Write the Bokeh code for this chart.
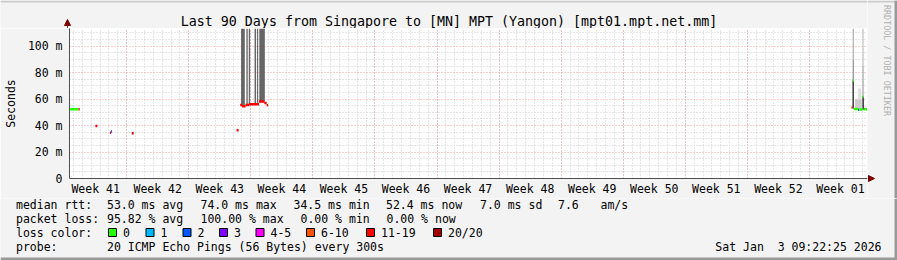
from bokeh.plotting import figure
from bokeh.models import Range1d, FixedTicker, Label, ColumnDataSource
from bokeh.layouts import column, row
from bokeh.embed import file_html
from bokeh.resources import INLINE
import math

# ---------------- data ----------------
TITLE = "Last 90 Days from Singapore to [MN] MPT (Yangon) [mpt01.mpt.net.mm]"
RANGE_DAYS = 90
Y_MAX_MS = 113.4
y_ticks_ms = [0, 20, 40, 60, 80, 100]
y_tick_labels = ["0", "20 m", "40 m", "60 m", "80 m", "100 m"]
y_minor_ms = [5, 10, 15, 25, 30, 35, 45, 50, 55, 65, 70, 75, 85, 90, 95, 105, 110]
week_labels = ["Week 41", "Week 42", "Week 43", "Week 44", "Week 45", "Week 46", "Week 47",
               "Week 48", "Week 49", "Week 50", "Week 51", "Week 52", "Week 01"]
first_week_start_day = 6.45   # first Sunday 00:00, days after graph start
first_midnight_day = 0.45

# median rtt runs: start day, end day, median ms, lost pings (of 20)
med_t0 = [0.00, 1.02, 2.92, 4.55, 4.68, 7.02, 18.85,
          19.25, 19.46, 19.85, 20.27, 21.37, 21.97, 22.24,
          88.20, 88.32, 88.45, 88.93, 89.05, 89.45, 89.58]
med_t1 = [1.02, 1.15, 3.14, 4.68, 4.80, 7.24, 19.07,
          19.46, 19.85, 20.27, 21.37, 21.97, 22.24, 22.40,
          88.32, 88.45, 88.93, 89.05, 89.45, 89.58, 90.00]
med_ms = [52.3, 52.3, 39.6, 34.5, 35.6, 34.3, 36.5,
          55.6, 54.7, 55.6, 56.1, 58.3, 57.0, 55.3,
          53.7, 74.0, 52.6, 52.0, 52.2, 61.8, 52.3]
med_loss = [0, 15, 15, 15, 2, 15, 15,
            15, 15, 15, 15, 15, 15, 15,
            15, 0, 0, 2, 0, 0, 0]

# smoke layers: start day, end day, low ms, high ms, density (0..1)
smoke_t0 = [19.35, 19.95, 20.22, 20.87, 21.15, 21.41,
            88.30, 88.33, 88.33, 88.60, 88.90, 89.42, 89.45, 89.45]
smoke_t1 = [19.77, 20.10, 20.37, 21.04, 21.28, 22.03,
            88.47, 88.45, 88.45, 89.35, 89.30, 89.60, 89.55, 89.55]
smoke_lo = [55.0, 55.0, 55.5, 56.0, 56.0, 58.0,
            53.0, 74.0, 90.0, 52.5, 60.0, 52.0, 62.0, 85.0]
smoke_hi = [113.4, 113.4, 113.4, 113.4, 113.4, 113.4,
            74.0, 90.0, 113.4, 60.0, 68.0, 62.0, 85.0, 113.4]
smoke_density = [0.6, 0.6, 0.6, 0.6, 0.6, 0.6,
                 0.75, 0.5, 0.35, 0.2, 0.12, 0.75, 0.45, 0.3]

loss_bin_labels = ["0", "1", "2", "3", "4-5", "6-10", "11-19", "20/20"]
loss_bin_upper = [0, 1, 2, 3, 5, 10, 19, 20]
loss_colors = ["#26ff00", "#00b8ff", "#0059ff", "#7e00ff", "#ff00ff", "#ff5500", "#ff0000", "#a10000"]

rtt_avg, rtt_max, rtt_min, rtt_now, rtt_sd, rtt_ams = 53.0, 74.0, 34.5, 52.4, 7.0, 7.6
loss_avg, loss_max, loss_min, loss_now = 95.82, 100.00, 0.00, 0.00
probe_text = "20 ICMP Echo Pings (56 Bytes) every 300s"
timestamp = "Sat Jan  3 09:22:25 2026"

# ---------------- layout constants ----------------
W, H = 897, 260
FL, FT, FW, FH = 67, 28, 800, 150
FB = FT + FH
MAIN_BOTTOM = 20
TOP_H = FT + FH + MAIN_BOTTOM          # height of upper block (198)
MONO = "DejaVu Sans Mono"
FS = "11.5px"
BG = "#f3f3f3"
AXIS_COL = "#505050"
ARROW_COL = "#7f0000"
SHADE_A = "#cbcbcb"
SHADE_B = "#999999"
BASE_SHIFT = 3.8   # Bokeh places alphabetic baselines slightly low


def lc(n):
    for up, c in zip(loss_bin_upper, loss_colors):
        if n <= up:
            return c
    return loss_colors[-1]


def gray(d):
    g = int(round(255 * (1 - d)))
    return "#%02x%02x%02x" % (g, g, g)


def page_fig(x0, x1, y0, y1):
    """A plain panel whose data coordinates are page pixels."""
    f = figure(width=int(x1 - x0), height=int(y1 - y0), x_range=Range1d(x0, x1),
               y_range=Range1d(y1, y0), output_backend="svg", toolbar_location=None,
               x_axis_type=None, y_axis_type=None, title=None,
               min_border_left=0, min_border_right=0, min_border_top=0, min_border_bottom=0,
               background_fill_color=BG, border_fill_color=BG, outline_line_color=None)
    f.xgrid.visible = False
    f.ygrid.visible = False
    return f


def lab(f, px, py, text, size=FS, align="left", baseline="alphabetic", color="black", angle=0.0):
    text = text.replace("  ", "\u00a0 ")   # keep runs of spaces visible in SVG text
    if baseline == "alphabetic":
        py -= BASE_SHIFT
    f.add_layout(Label(x=px, y=py, text=text, text_font=MONO, text_font_size=size,
                       text_align=align, text_baseline=baseline, text_color=color, angle=angle))


# ---------------- main chart ----------------
p = figure(width=FL + FW, height=FH + MAIN_BOTTOM, x_range=Range1d(0, RANGE_DAYS),
           y_range=Range1d(0, Y_MAX_MS), output_backend="svg", toolbar_location=None,
           title=None, min_border_left=FL, min_border_right=0, min_border_top=0,
           min_border_bottom=MAIN_BOTTOM, background_fill_color="white",
           border_fill_color=BG, outline_line_color=None)

week_starts = [first_week_start_day + 7 * k for k in range(12)]
midnights = [first_midnight_day + k for k in range(RANGE_DAYS)]
p.xgrid.ticker = FixedTicker(ticks=week_starts, minor_ticks=midnights)
p.ygrid.ticker = FixedTicker(ticks=y_ticks_ms, minor_ticks=y_minor_ms)
for g in (p.xgrid[0], p.ygrid[0]):
    g.grid_line_color = "#eca0a0"
    g.grid_line_dash = "1 2"
    g.minor_grid_line_color = "#cccccc"
    g.minor_grid_line_dash = "1 2"

week_centers = [first_week_start_day - 3.5 + 7 * k for k in range(len(week_labels))]
p.xaxis.ticker = FixedTicker(ticks=week_centers)
p.xaxis.major_label_overrides = {c: l for c, l in zip(week_centers, week_labels)}
p.yaxis.ticker = FixedTicker(ticks=y_ticks_ms)
p.yaxis.major_label_overrides = {v: l for v, l in zip(y_ticks_ms, y_tick_labels)}
for ax in (p.xaxis[0], p.yaxis[0]):
    ax.major_tick_line_color = None
    ax.minor_tick_line_color = None
    ax.major_tick_out = 0
    ax.major_tick_in = 0
    ax.minor_tick_out = 0
    ax.minor_tick_in = 0
    ax.axis_line_color = AXIS_COL
    ax.major_label_text_font = MONO
    ax.major_label_text_font_size = FS
    ax.major_label_text_color = "black"
p.xaxis.major_label_standoff = 3
p.yaxis.major_label_standoff = 7
p.yaxis.axis_label = "Seconds"
p.yaxis.axis_label_text_font = MONO
p.yaxis.axis_label_text_font_size = FS
p.yaxis.axis_label_text_font_style = "normal"
p.yaxis.axis_label_text_color = "black"
p.yaxis.axis_label_standoff = 7

smoke = ColumnDataSource(dict(l=smoke_t0, r=smoke_t1, b=smoke_lo, t=smoke_hi,
                              c=[gray(d) for d in smoke_density]))
p.quad(left="l", right="r", bottom="b", top="t", fill_color="c", line_color=None, source=smoke)

med = ColumnDataSource(dict(x0=med_t0, x1=med_t1, y=med_ms, c=[lc(n) for n in med_loss]))
p.segment(x0="x0", y0="y", x1="x1", y1="y", line_color="c", line_width=2.5,
          line_cap="butt", source=med)

# ---------------- top strip (title, y-axis arrow) ----------------
top = page_fig(0, FL + FW, 0, FT)
top.quad(left=[0], right=[FL + FW], top=[0], bottom=[2], fill_color=SHADE_A, line_color=None)
top.segment(x0=[FL], y0=[24], x1=[FL], y1=[FT], line_color=AXIS_COL, line_width=1)
top.patch(x=[FL - 3, FL + 3, FL], y=[25, 25, 19], fill_color=ARROW_COL, line_color=ARROW_COL)
lab(top, W / 2, 24.3, TITLE, size="13.3px", align="center")

# ---------------- right strip (credit, x-axis arrow) ----------------
rgt = page_fig(FL + FW, W, 0, TOP_H)
rgt.quad(left=[FL + FW], right=[W], top=[0], bottom=[2], fill_color=SHADE_A, line_color=None)
rgt.quad(left=[W - 3], right=[W], top=[0], bottom=[TOP_H], fill_color=SHADE_B, line_color=None)
rgt.segment(x0=[FL + FW], y0=[FB], x1=[869], y1=[FB], line_color=AXIS_COL, line_width=1)
rgt.patch(x=[868, 868, 874], y=[FB - 3, FB + 3, FB], fill_color=ARROW_COL, line_color=ARROW_COL)
lab(rgt, 886, 60, "RRDTOOL / TOBI OETIKER", size="8.4px", align="center", baseline="middle",
    color="#b0b0b0", angle=-math.pi / 2)

# ---------------- legend block ----------------
leg = page_fig(0, W, TOP_H, H)
leg.quad(left=[W - 3], right=[W], top=[TOP_H], bottom=[H], fill_color=SHADE_B, line_color=None)
leg.quad(left=[0], right=[W], top=[H - 3], bottom=[H], fill_color=SHADE_B, line_color=None)

B1, B2, B3, B4 = 208, 222, 236, 250
lab(leg, 15.5, B1, "median rtt:")
lab(leg, 106.5, B1, "%.1f ms avg" % rtt_avg)
lab(leg, 200, B1, "%.1f ms max" % rtt_max)
lab(leg, 293, B1, "%.1f ms min" % rtt_min)
lab(leg, 385.5, B1, "%.1f ms now" % rtt_now)
lab(leg, 479.5, B1, "%.1f ms sd" % rtt_sd)
lab(leg, 557.5, B1, "%.1f" % rtt_ams)
lab(leg, 600, B1, "am/s")

lab(leg, 15.5, B2, "packet loss:")
lab(leg, 106.5, B2, "%.2f %% avg" % loss_avg)
lab(leg, 200, B2, "%.2f %% max" % loss_max)
lab(leg, 300, B2, "%.2f %% min" % loss_min)
lab(leg, 386, B2, "%.2f %% now" % loss_now)

lab(leg, 15.5, B3, "loss color:")
sw_x = [108, 145.5, 182.5, 219, 255.5, 306, 366, 433]
leg.quad(left=sw_x, right=[x + 8 for x in sw_x], top=[228] * len(sw_x),
         bottom=[236] * len(sw_x), fill_color=loss_colors, line_color="black", line_width=1)
for sx, txt in zip(sw_x, loss_bin_labels):
    lab(leg, sx + 14.5, B3, txt)

lab(leg, 15.5, B4, "probe:")
lab(leg, 106.5, B4, probe_text)
lab(leg, 881, B4, timestamp, align="right")

upper_left = column(row(top, spacing=0), row(p, spacing=0), spacing=0)
layout = column(row(upper_left, rgt, spacing=0), leg, spacing=0)
open("out.html", "w").write(file_html(layout, INLINE))
